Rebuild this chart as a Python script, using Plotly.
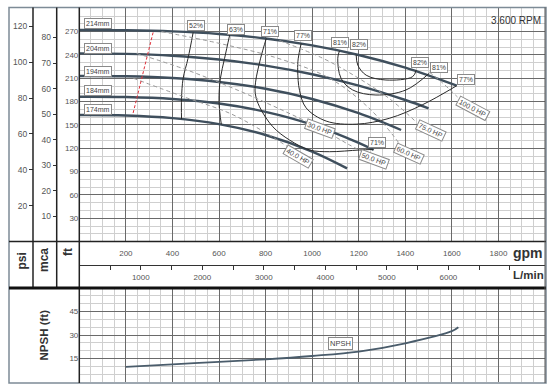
import plotly.graph_objects as go

W, H = 559, 387
FONT = "Liberation Sans, Arial, sans-serif"

# ---------------- data ----------------
q214 = [0, 200, 400, 600, 800, 1000, 1200, 1400, 1621]
h214 = [272, 271.7, 270.3, 267, 261.2, 252.3, 240, 223.7, 200.5]
q204 = [0, 200, 400, 600, 800, 1000, 1200, 1400, 1500]
h204 = [242, 241.4, 239, 234.1, 226.3, 215.2, 200.6, 182.1, 171.4]
q194 = [0, 200, 400, 600, 800, 1000, 1200, 1382]
h194 = [213, 212.6, 210.4, 205.3, 196.6, 183.4, 165.1, 143.5]
q184 = [0, 200, 400, 600, 800, 1000, 1200, 1264]
h184 = [186.3, 185.9, 183.4, 177.5, 166.9, 150.4, 126.9, 117.8]
q174 = [0, 200, 400, 600, 800, 1000, 1150]
h174 = [162.8, 162.2, 158.8, 151, 137.1, 115.8, 94.2]
impellers = ["214mm", "204mm", "194mm", "184mm", "174mm"]
impeller_label_h = [280.6, 248.5, 219.3, 194, 170.1]

eff52_q = [489, 467, 446, 439, 439]
eff52_h = [269, 235.7, 210, 184.2, 157.5]
eff63_q = [646, 624, 606, 600, 610]
eff63_h = [266, 235.7, 210, 180, 150.5]
eff71_q = [803, 778, 757, 756, 774, 831, 903, 989, 1074, 1203, 1262]
eff71_h = [261.2, 235, 205, 190, 173.4, 147.7, 130.6, 117.8, 115.6, 117.8, 118.5]
eff77_q = [953, 940, 938, 946, 974, 1060, 1189, 1331, 1474, 1621]
eff77_h = [255, 235, 220, 194, 172, 155, 151, 158.5, 176, 200.5]
eff81_q = [1117, 1110, 1124, 1174, 1274, 1403, 1503]
eff81_h = [245, 235.7, 210, 195, 188.5, 195, 216.5]
eff82_q = [1189, 1196, 1232, 1317, 1431, 1447]
eff82_h = [240.5, 227, 214, 207.8, 212, 220.5]

# efficiency label (text, q, h)
eff_labels = [("52%", 503, 278.3), ("63%", 671, 273.3), ("71%", 817, 270.8),
              ("77%", 960, 265.6), ("81%", 1120, 256.2), ("82%", 1200, 254),
              ("82%", 1464, 230), ("81%", 1543, 223.6), ("77%", 1660, 209),
              ("71%", 1277, 127)]

hp100_q = [1503, 1560, 1624]
hp100_h = [218, 204, 186]
hp75_q = [860, 1046, 1189, 1331, 1446]
hp75_h = [258.5, 235.7, 212, 184, 154]
hp60_q = [353, 600, 850, 1075, 1250, 1380]
hp60_h = [270, 255, 236, 210, 170, 124]
hp50_q = [246, 450, 646, 850, 1032, 1150, 1250]
hp50_h = [242, 222, 199, 172, 146, 126, 110]
hp40_q = [232, 450, 646, 800, 915]
hp40_h = [210, 186, 165, 140, 118]
# power label (text, q, h, angle)
hp_labels = [("100.0 HP", 1692, 171.7, 28), ("75.0 HP", 1510, 143.4, 25),
             ("60.0 HP", 1415, 113.5, 24), ("50.0 HP", 1267, 105.8, 20),
             ("30.0 HP", 1032, 145.7, 20), ("40.0 HP", 939, 109, 30)]

red_q = [317, 229]
red_h = [269, 162.7]

npsh_q = [200, 400, 600, 800, 1000, 1200, 1400, 1600, 1628]
npsh_h = [9.7, 11.4, 13.0, 14.6, 16.7, 19.5, 24.8, 32.5, 35.0]

gpm_ticks = [200, 400, 600, 800, 1000, 1200, 1400, 1600, 1800]
ft_ticks = [30, 60, 90, 120, 150, 180, 210, 240, 270]
psi_ticks = [20, 40, 60, 80, 100, 120]
mca_ticks = [10, 20, 30, 40, 50, 60, 70, 80]
npsh_ticks = [15, 30, 45]
lmin_ticks = [500, 1000, 1500, 2000, 2500, 3000, 3500, 4000, 4500, 5000, 5500, 6000, 6500, 7000]
lmin_text = ["", "1000", "", "2000", "", "3000", "", "4000", "", "5000", "", "6000", "", ""]

# ---------------- geometry helpers ----------------
def px(x):
    return x / W

def py(y):
    return 1 - y / H

X0, X1 = 79.3, 545.0
MAIN_T, MAIN_B = 8.3, 241.6
NP_T, NP_B = 288.0, 382.2

HEAD_COL = "#3f4f5d"
EFF_COL = "#2a2a2a"
HP_COL = "#999999"
MAJ = "#6a6a6a"
MIN = "#cfcfcf"

fig = go.Figure()

for q, h in [(q214, h214), (q204, h204), (q194, h194), (q184, h184), (q174, h174)]:
    fig.add_trace(go.Scatter(x=q, y=h, mode="lines", line=dict(color=HEAD_COL, width=2.4, shape="spline"),
                             xaxis="x", yaxis="y", showlegend=False, hoverinfo="skip"))

for q, h in [(eff52_q, eff52_h), (eff63_q, eff63_h), (eff71_q, eff71_h), (eff77_q, eff77_h),
             (eff81_q, eff81_h), (eff82_q, eff82_h)]:
    fig.add_trace(go.Scatter(x=q, y=h, mode="lines", line=dict(color=EFF_COL, width=1, shape="spline"),
                             xaxis="x", yaxis="y", showlegend=False, hoverinfo="skip"))

for q, h in [(hp100_q, hp100_h), (hp75_q, hp75_h), (hp60_q, hp60_h), (hp50_q, hp50_h), (hp40_q, hp40_h)]:
    fig.add_trace(go.Scatter(x=q, y=h, mode="lines", line=dict(color=HP_COL, width=1, dash="4px,3px", shape="spline"),
                             xaxis="x", yaxis="y", showlegend=False, hoverinfo="skip"))

fig.add_trace(go.Scatter(x=red_q, y=red_h, mode="lines", line=dict(color="#e0303a", width=1, dash="3px,2px"),
                         xaxis="x", yaxis="y", showlegend=False, hoverinfo="skip"))

fig.add_trace(go.Scatter(x=npsh_q, y=npsh_h, mode="lines", line=dict(color="#4a5c6b", width=1.8, shape="spline"),
                         xaxis="x2", yaxis="y4", showlegend=False, hoverinfo="skip"))

# invisible traces to carry secondary axes
fig.add_trace(go.Scatter(x=[0], y=[0], mode="markers", marker=dict(opacity=0), xaxis="x", yaxis="y2",
                         showlegend=False, hoverinfo="skip"))
fig.add_trace(go.Scatter(x=[0], y=[0], mode="markers", marker=dict(opacity=0), xaxis="x", yaxis="y3",
                         showlegend=False, hoverinfo="skip"))
fig.add_trace(go.Scatter(x=[0], y=[0], mode="markers", marker=dict(opacity=0), xaxis="x3", yaxis="y",
                         showlegend=False, hoverinfo="skip"))

tickf = dict(family=FONT, size=8, color="#555")

fig.update_layout(
    width=W, height=H, margin=dict(l=0, r=0, t=0, b=0),
    paper_bgcolor="white", plot_bgcolor="white",
    font=dict(family=FONT),
    xaxis=dict(domain=[px(X0), px(X1)], range=[0, 2000], anchor="y",
               tickmode="array", tickvals=gpm_ticks, ticks="outside", ticklen=4,
               tickcolor="rgba(0,0,0,0)", tickfont=tickf,
               showgrid=True, gridcolor=MAJ, gridwidth=1, zeroline=False, showline=False,
               minor=dict(tickmode="linear", tick0=0, dtick=50, showgrid=True, gridcolor=MIN, gridwidth=1, ticks="")),
    yaxis=dict(domain=[py(MAIN_B), py(MAIN_T)], range=[0, 300], anchor="x",
               tickmode="array", tickvals=ft_ticks, ticks="", tickfont=tickf,
               showgrid=True, gridcolor=MAJ, gridwidth=1, zeroline=False, showline=False,
               minor=dict(tickmode="linear", tick0=0, dtick=10, showgrid=True, gridcolor=MIN, gridwidth=1, ticks="")),
    yaxis2=dict(overlaying="y", anchor="free", position=px(33), side="left",
                range=[0, 300 / 2.30666], tickmode="array", tickvals=psi_ticks,
                ticks="outside", ticklen=4, tickcolor="#333", tickfont=dict(family=FONT, size=8.5, color="#555"),
                showgrid=False, zeroline=False, showline=False),
    yaxis3=dict(overlaying="y", anchor="free", position=px(56.7), side="left",
                range=[0, 300 / 3.28084], tickmode="array", tickvals=mca_ticks,
                ticks="outside", ticklen=4, tickcolor="#333", tickfont=dict(family=FONT, size=8.5, color="#555"),
                showgrid=False, zeroline=False, showline=False),
    xaxis3=dict(overlaying="x", anchor="free", position=py(265.3), side="bottom",
                range=[0, 2000 * 3.78541], tickmode="array", tickvals=lmin_ticks, ticktext=lmin_text,
                ticks="outside", ticklen=4, tickcolor="#333", tickfont=tickf,
                showgrid=False, zeroline=False, showline=True, linecolor="#333", linewidth=1),
    xaxis2=dict(domain=[px(X0), px(X1)], range=[0, 2000], anchor="y4",
                tickmode="array", tickvals=gpm_ticks, showticklabels=False, ticks="",
                showgrid=True, gridcolor=MAJ, gridwidth=1, zeroline=False, showline=False,
                minor=dict(tickmode="linear", tick0=0, dtick=50, showgrid=True, gridcolor=MIN, gridwidth=1, ticks="")),
    yaxis4=dict(domain=[py(NP_B), py(NP_T)], range=[0, 60], anchor="x2",
                tickmode="array", tickvals=npsh_ticks, ticks="", tickfont=tickf,
                showgrid=True, gridcolor=MAJ, gridwidth=1, zeroline=False, showline=False,
                minor=dict(tickmode="linear", tick0=0, dtick=5, showgrid=True, gridcolor=MIN, gridwidth=1, ticks="")),
)

def pline(x0, y0, x1, y1, color="#222", width=1.5):
    return dict(type="line", xref="paper", yref="paper", x0=px(x0), y0=py(y0), x1=px(x1), y1=py(y1),
                line=dict(color=color, width=width), layer="above")

shapes = [
    dict(type="rect", xref="paper", yref="paper", x0=px(9), y0=py(383), x1=px(546), y1=py(7.5),
         line=dict(color="#7d8b96", width=1.5), layer="above"),
    pline(33, 7.5, 33, 288),
    pline(56.7, 7.5, 56.7, 288),
    pline(X0, 7.5, X0, 383),
    pline(9, MAIN_B, 546, MAIN_B),
    pline(9, 288, 546, 288, color="#111", width=3),
    pline(X1, 7.5, X1, 383, color="#555", width=1),
]
fig.update_layout(shapes=shapes)

ann = []
def box(text, x, y, xref="x", yref="y", angle=0, size=7, xanchor="center"):
    return dict(text=text, x=x, y=y, xref=xref, yref=yref, showarrow=False, textangle=angle,
                font=dict(family=FONT, size=size, color="#444"), bgcolor="white",
                bordercolor="#8a8a8a", borderwidth=1, borderpad=1, xanchor=xanchor, yanchor="middle")

for name, hy in zip(impellers, impeller_label_h):
    ann.append(box(name, 22, hy, xanchor="left"))
for t, q, h in eff_labels:
    ann.append(box(t, q, h))
for t, q, h, a in hp_labels:
    ann.append(box(t, q, h, angle=a))
ann.append(box("NPSH", 1122, 24.6, xref="x2", yref="y4", size=7.5))

def txt(text, x, y, size, bold=True, angle=0, color="#333", xanchor="center"):
    return dict(text=("<b>%s</b>" % text) if bold else text, x=px(x), y=py(y), xref="paper", yref="paper",
                showarrow=False, textangle=angle, xanchor=xanchor, yanchor="middle",
                font=dict(family=FONT, size=size, color=color))

ann += [
    txt("3.600 RPM", 543, 20, 10, bold=False, xanchor="right"),
    txt("psi", 21.5, 261, 12, angle=-90),
    txt("mca", 44, 260, 12, angle=-90),
    txt("ft", 68, 252, 12, angle=-90),
    txt("NPSH (ft)", 43.5, 335, 11.5, angle=-90),
    txt("gpm", 528, 252.5, 14),
    txt("L/min", 528, 275, 11.5),
]
fig.update_layout(annotations=ann)

fig.write_html("out.html", config={"displayModeBar": False, "staticPlot": True},
               post_script="document.body.style.margin='0';document.body.style.padding='0';")
